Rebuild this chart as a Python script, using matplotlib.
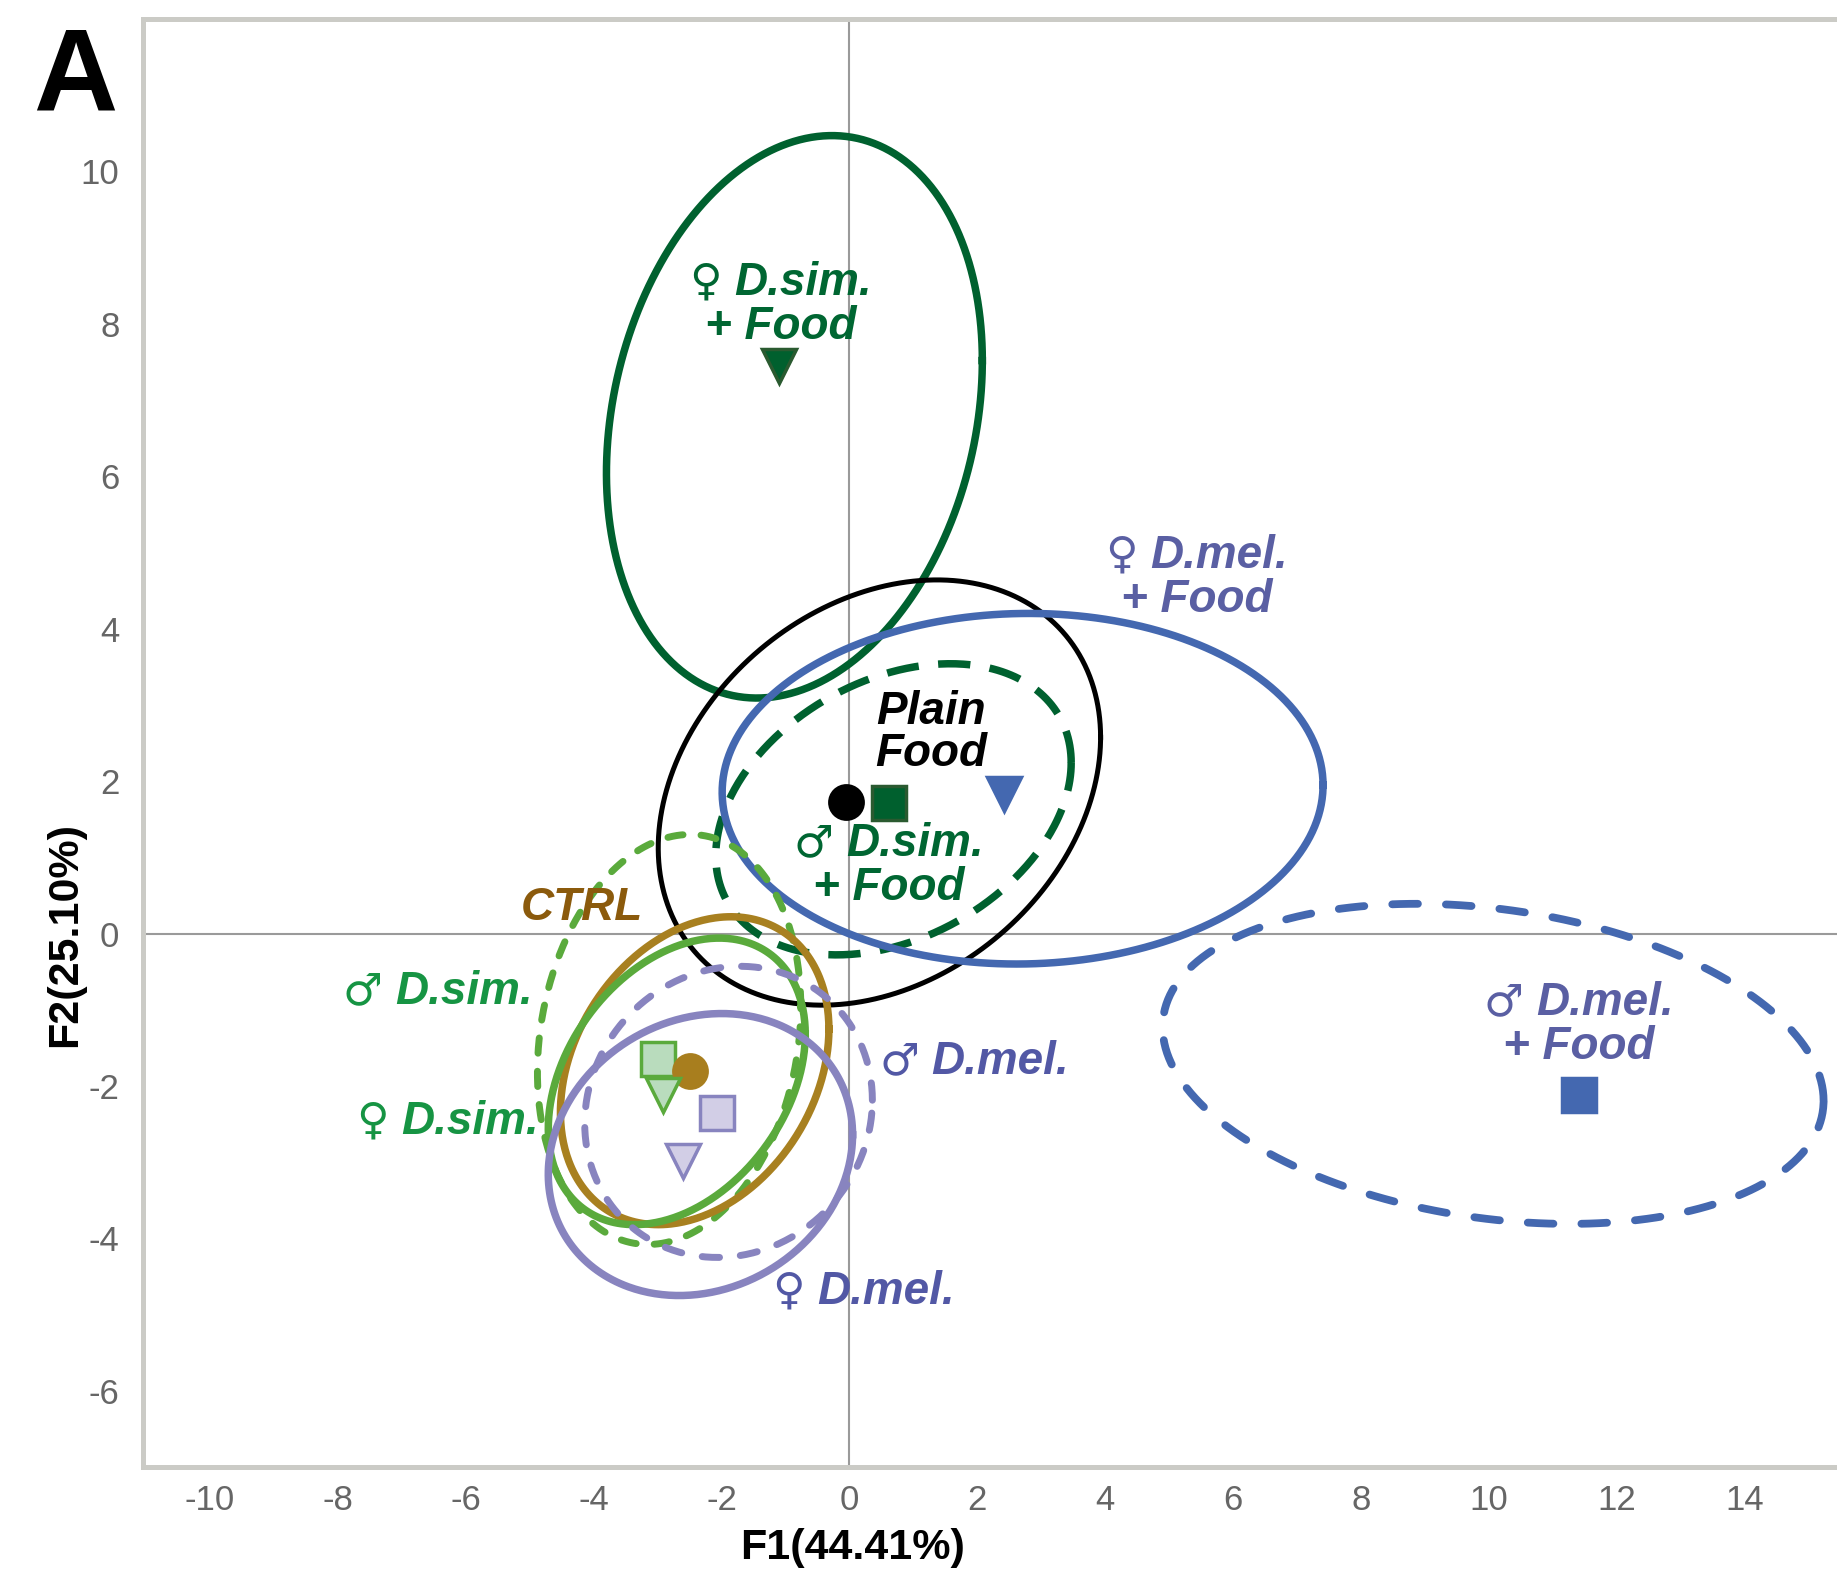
import matplotlib
matplotlib.use('Agg')
import matplotlib.pyplot as plt
from matplotlib.offsetbox import TextArea, HPacker, VPacker, AnnotationBbox
import numpy as np

plt.rcParams['font.family'] = ['Liberation Sans', 'DejaVu Sans']
plt.rcParams['axes.unicode_minus'] = False

# group centroids (F1, F2)
grp = ['fsimF', 'plain', 'msimF', 'fmelF', 'mmelF', 'msim', 'ctrl', 'fsim', 'mmel', 'fmel']
pt_x = [-1.10, -0.06, 0.62, 2.42, 11.41, -2.99, -2.49, -2.92, -2.07, -2.61]
pt_y = [7.45, 1.72, 1.71, 1.83, -2.12, -1.65, -1.81, -2.12, -2.35, -2.98]
pt_marker = ['v', 'o', 's', 'v', 's', 's', 'o', 'v', 's', 'v']
pt_face = ['#00602e', '#000000', '#00602e', '#4468b0', '#4468b0', '#b9dcbd', '#a87e1e', '#b9dcbd', '#d2cee6', '#d2cee6']
pt_edge = ['#2a5a30', '#000000', '#2a5a30', '#4468b0', '#4468b0', '#5aaa3c', '#a87e1e', '#5aaa3c', '#8884bf', '#8884bf']

# confidence ellipses: centre, spread along F1 / F2, correlation
el_cx = [-0.86, 0.47, 0.69, 2.71, 10.07, -2.82, -2.42, -2.70, -1.89, -2.33]
el_cy = [6.78, 1.85, 1.63, 1.90, -1.71, -1.39, -1.80, -1.94, -2.34, -2.90]
el_sx = [2.94, 3.46, 2.78, 4.70, 5.17, 2.06, 2.10, 2.01, 2.25, 2.38]
el_sy = [3.69, 2.79, 1.91, 2.30, 2.10, 2.69, 2.02, 1.88, 1.91, 1.85]
el_rho = [0.20, 0.26, 0.32, 0.02, -0.23, 0.16, 0.27, 0.33, 0.08, 0.14]
el_color = ['#00612f', '#000000', '#00612f', '#4468b0', '#4468b0', '#5aaa3c', '#a88020', '#5aaa3c', '#8884bf', '#8884bf']
el_dash = [None, None, (4.3, 2.6), None, (3.3, 3.6), (2.2, 2.6), None, None, (2.5, 3.0), None]
el_cap = ['round', 'round', 'butt', 'round', 'round', 'round', 'round', 'round', 'round', 'round']
el_lw = [5.4, 3.6, 5.4, 5.4, 5.6, 5.0, 5.4, 5.4, 5.0, 5.4]
el_order = [1, 2, 3, 5, 4, 6, 7, 8, 9, 10]

# text labels: sex symbol, first line, second line
lab_sym = ['♀', '', '♂', '♀', '♂', '♂', '', '♀', '♂', '♀']
lab_l1 = ['D.sim.', 'Plain', 'D.sim.', 'D.mel.', 'D.mel.', 'D.sim.', 'CTRL', 'D.sim.', 'D.mel.', 'D.mel.']
lab_l2 = ['+ Food', 'Food', '+ Food', '+ Food', '+ Food', '', '', '', '', '']
lab_x = [-1.08, 1.28, 0.62, 5.43, 11.41, -6.44, -4.18, -6.28, 1.95, 0.22]
lab_y = [8.25, 2.63, 0.88, 4.67, -1.20, -0.77, 0.34, -2.47, -1.69, -4.70]
lab_color = ['#006632', '#000000', '#006632', '#5a5fa3', '#5a5fa3', '#169443', '#8b5a0c', '#169443', '#5258a5', '#5258a5']


def ellipse_xy(cx, cy, sx, sy, rho, n=400):
    t = np.linspace(0, 2 * np.pi, n)
    x = cx + sx * np.cos(t)
    y = cy + sy * (rho * np.cos(t) + np.sqrt(1 - rho ** 2) * np.sin(t))
    return x, y


fig = plt.figure(figsize=(18.37, 15.75), dpi=100)
ax = fig.add_axes([143 / 1837, 108 / 1575, 1 - 143 / 1837, 1448 / 1575])

ax.axhline(0, color='#9a9a9a', lw=1.5, zorder=1)
ax.axvline(0, color='#9a9a9a', lw=1.5, zorder=1)

for i in range(len(el_cx)):
    x, y = ellipse_xy(el_cx[i], el_cy[i], el_sx[i], el_sy[i], el_rho[i])
    if el_dash[i] is None:
        ax.plot(x, y, color=el_color[i], lw=el_lw[i], zorder=2 + el_order[i] * 0.1)
    else:
        ax.plot(x, y, color=el_color[i], lw=el_lw[i], dashes=el_dash[i],
                dash_capstyle=el_cap[i], zorder=2 + el_order[i] * 0.1)

for i in range(len(pt_x)):
    ax.plot(pt_x[i], pt_y[i], marker=pt_marker[i], ms=24, mfc=pt_face[i],
            mec=pt_edge[i], mew=2.5, ls='none', zorder=5)

for i in range(len(lab_l1)):
    tp = dict(color=lab_color[i], fontsize=33, fontweight='bold', fontstyle='italic')
    if lab_sym[i] == '':
        s = lab_l1[i] + ('\n' + lab_l2[i] if lab_l2[i] else '')
        ax.text(lab_x[i], lab_y[i], s, ha='center', va='center', linespacing=0.95,
                zorder=6, **tp)
        continue
    sym = TextArea(lab_sym[i], textprops=dict(color=lab_color[i], fontsize=32,
                                              family='DejaVu Sans'))
    row = HPacker(children=[sym, TextArea(lab_l1[i], textprops=tp)], align='baseline',
                  pad=0, sep=9)
    box = row
    if lab_l2[i]:
        box = VPacker(children=[row, TextArea(lab_l2[i], textprops=tp)], align='center',
                      pad=0, sep=0)
    ab = AnnotationBbox(box, (lab_x[i], lab_y[i]), xycoords='data', frameon=False,
                        pad=0, box_alignment=(0.5, 0.5))
    ab.set_zorder(6)
    ax.add_artist(ab)

ax.set_xlim(-11.05, 15.45)
ax.set_ylim(-7, 12)
ax.set_xticks(np.arange(-10, 15, 2))
ax.set_yticks(np.arange(-6, 11, 2))
ax.tick_params(length=0, labelsize=25, labelcolor='#666666')
ax.tick_params(axis='y', pad=17)
ax.tick_params(axis='x', pad=12)
for s in ['left', 'top', 'bottom']:
    ax.spines[s].set_color('#cbcbc6')
    ax.spines[s].set_linewidth(3.6)
ax.spines['right'].set_visible(False)

ax.set_xlabel('F1(44.41%)', fontsize=31, fontweight='bold')
ax.set_ylabel('F2(25.10%)', fontsize=31, fontweight='bold')
ax.xaxis.set_label_coords(0.419, -0.042)
ax.yaxis.set_label_coords(-0.034, 0.368)

fig.text(0.018, 1 - 111 / 1575, 'A', fontsize=84, fontweight='bold', va='baseline', ha='left')

plt.savefig('out.png', dpi=100)
plt.close()
